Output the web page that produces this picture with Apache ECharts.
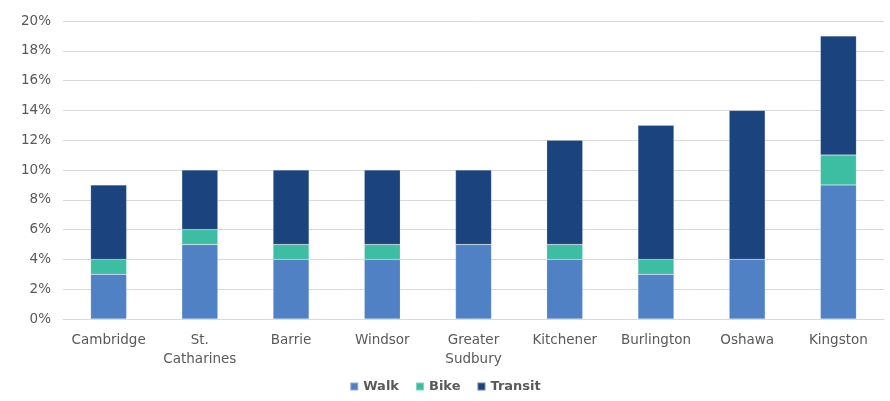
<!DOCTYPE html>
<html><head><meta charset="utf-8">
<script src="https://cdn.jsdelivr.net/npm/echarts@6/dist/echarts.min.js"></script>
<style>html,body{margin:0;padding:0;background:#fff}#c{width:890px;height:401px}</style>
</head><body><div id="c"></div>
<script>
const categories = ["Cambridge","St.\nCatharines","Barrie","Windsor","Greater\nSudbury","Kitchener","Burlington","Oshawa","Kingston"];
const walk = [3,5,4,4,5,4,3,4,9];
const bike = [1,1,1,1,0,1,1,0,2];
const transit = [5,4,5,5,5,7,9,10,8];
const seriesNames = ["Walk","Bike","Transit"];
const colors = ["#4F81C4","#3DBDA2","#1B437D"];
const chart = echarts.init(document.getElementById('c'));
const mk = (name, data, color) => ({
  name, type:'bar', stack:'s', data, barWidth:36,
  itemStyle:{color, borderColor:'rgba(255,255,255,0.35)', borderWidth:0.5},
  emphasis:{disabled:true}
});
chart.setOption({
  animation:false,
  grid:{left:63,right:6,top:21,bottom:82},
  legend:{bottom:3,left:'center',itemWidth:8,itemHeight:8,itemGap:16,icon:'rect',
    textStyle:{fontFamily:'DejaVu Sans',fontWeight:'bold',fontSize:13,color:'#595959'},
    data:seriesNames},
  xAxis:{type:'category',data:categories,
    axisLine:{lineStyle:{color:'#D9D9D9'}},axisTick:{show:false},
    axisLabel:{fontFamily:'DejaVu Sans',fontSize:13.5,color:'#595959',margin:12,lineHeight:19,interval:0}},
  yAxis:{type:'value',min:0,max:20,interval:2,
    axisLabel:{formatter:'{value}%',fontFamily:'DejaVu Sans',fontSize:13.5,color:'#595959',margin:12},
    splitLine:{lineStyle:{color:'#D9D9D9'}},axisLine:{show:false},axisTick:{show:false}},
  series:[mk(seriesNames[0],walk,colors[0]),mk(seriesNames[1],bike,colors[1]),mk(seriesNames[2],transit,colors[2])]
});
</script></body></html>
